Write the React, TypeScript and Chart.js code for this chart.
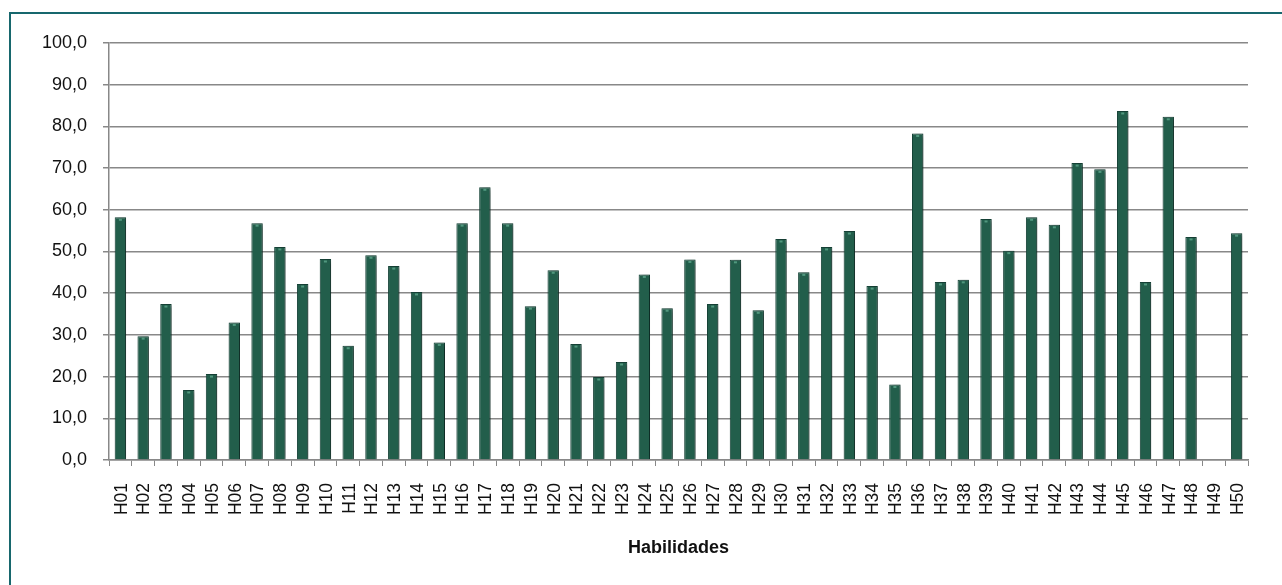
import React, { useEffect, useRef } from "react";
import { Chart, registerables } from "chart.js";

Chart.register(...registerables);

const categories: string[] = [
  "H01", "H02", "H03", "H04", "H05", "H06", "H07", "H08", "H09", "H10",
  "H11", "H12", "H13", "H14", "H15", "H16", "H17", "H18", "H19", "H20",
  "H21", "H22", "H23", "H24", "H25", "H26", "H27", "H28", "H29", "H30",
  "H31", "H32", "H33", "H34", "H35", "H36", "H37", "H38", "H39", "H40",
  "H41", "H42", "H43", "H44", "H45", "H46", "H47", "H48", "H49", "H50",
];

const acertos: (number | null)[] = [
  58.2, 29.7, 37.4, 16.8, 20.6, 33.0, 56.8, 51.1, 42.2, 48.2,
  27.4, 49.1, 46.5, 40.3, 28.2, 56.8, 65.4, 56.8, 36.9, 45.5,
  27.8, 19.9, 23.5, 44.5, 36.4, 48.1, 37.4, 48.0, 35.9, 53.0,
  45.0, 51.1, 54.9, 41.7, 18.1, 78.3, 42.7, 43.2, 57.8, 50.2,
  58.2, 56.4, 71.2, 69.7, 83.7, 42.7, 82.3, 53.5, null, 54.4,
];

const yMin = 0;
const yMax = 100;
const yStep = 10;

const axisTitle = "Habilidades";

const W = 1282;
const H = 585;

const FONT = "'Liberation Sans', Arial, sans-serif";

// Soft drop shadow behind the bars plus a small bevel highlight on each bar top.
const barEffects = {
  id: "barEffects",
  beforeDatasetsDraw(chart: any) {
    const ctx = chart.ctx;
    ctx.save();
    ctx.shadowColor = "rgba(0,0,0,0.45)";
    ctx.shadowBlur = 5;
    ctx.shadowOffsetX = 2.5;
    ctx.shadowOffsetY = 1;
  },
  afterDatasetsDraw(chart: any) {
    const ctx = chart.ctx;
    ctx.restore();
    const meta = chart.getDatasetMeta(0);
    ctx.save();
    meta.data.forEach((bar: any, i: number) => {
      if (acertos[i] == null) return;
      const { x, y } = bar.getProps(["x", "y"], true);
      ctx.fillStyle = "rgba(120,200,170,0.55)";
      ctx.fillRect(x - 1.5, y + 1.5, 3, 2);
    });
    ctx.restore();
  },
};

export default function App() {
  const ref = useRef<HTMLCanvasElement | null>(null);

  useEffect(() => {
    if (!ref.current) return;
    const chart = new Chart(ref.current, {
      type: "bar",
      data: {
        labels: categories,
        datasets: [
          {
            data: acertos,
            backgroundColor: "#225e4b",
            borderColor: "#17463a",
            borderWidth: 1,
            barPercentage: 0.5,
            categoryPercentage: 1,
          },
        ],
      },
      plugins: [barEffects],
      options: {
        responsive: false,
        animation: false,
        layout: { padding: { top: 43, right: 34, left: 0, bottom: 0 } },
        plugins: {
          legend: { display: false },
          tooltip: { enabled: false },
        },
        scales: {
          x: {
            afterFit: (s: any) => {
              s.height = 125;
            },
            grid: {
              drawOnChartArea: false,
              drawTicks: true,
              tickLength: 6,
              color: "#888888",
              offset: true,
            },
            border: { display: true, color: "#888888", width: 1.5 },
            ticks: {
              minRotation: 90,
              maxRotation: 90,
              autoSkip: false,
              padding: 17,
              labelOffset: 1.5,
              color: "#111111",
              font: { family: FONT, size: 17.5 },
            },
            title: {
              display: true,
              text: axisTitle,
              color: "#111111",
              font: { family: FONT, size: 18, weight: "bold" },
              padding: { top: 0, bottom: 26 },
            },
          },
          y: {
            min: yMin,
            max: yMax,
            afterFit: (s: any) => {
              s.width = 109;
            },
            grid: {
              color: "#888888",
              lineWidth: 1.5,
              tickLength: 6,
              drawTicks: true,
            },
            border: { display: true, color: "#888888", width: 1.5 },
            ticks: {
              stepSize: yStep,
              padding: 16,
              color: "#111111",
              font: { family: FONT, size: 18 },
              callback: (v: any) => Number(v).toFixed(1).replace(".", ","),
            },
          },
        },
      },
    });
    return () => chart.destroy();
  }, []);

  return (
    <div
      style={{
        position: "fixed",
        left: 0,
        top: 0,
        width: W,
        height: H,
        background: "#ffffff",
        overflow: "hidden",
      }}
    >
      <div
        style={{
          position: "absolute",
          left: 9,
          top: 12,
          width: W + 40,
          height: H + 40,
          borderLeft: "2px solid #17676d",
          borderTop: "2px solid #17676d",
          boxSizing: "border-box",
        }}
      />
      <canvas
        ref={ref}
        width={W}
        height={H}
        style={{ position: "absolute", left: 0, top: 0, width: W, height: H }}
      />
    </div>
  );
}
